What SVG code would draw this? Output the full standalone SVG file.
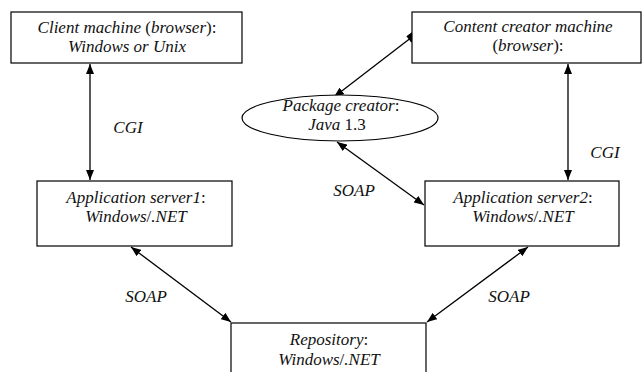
<svg xmlns="http://www.w3.org/2000/svg" width="643" height="372" viewBox="0 0 643 372">
<defs>
<marker id="ah" viewBox="0 0 10 8" refX="10" refY="4" markerWidth="10" markerHeight="8" markerUnits="userSpaceOnUse" orient="auto-start-reverse">
<path d="M0,0 L10,4 L0,8 Z" fill="#000"/>
</marker>
</defs>
<rect width="643" height="372" fill="#fff"/>
<g id="connectors">
<g stroke="#000" stroke-width="1.3" fill="none">
<line x1="90" y1="64" x2="90" y2="180" marker-start="url(#ah)" marker-end="url(#ah)"/>
<line x1="568" y1="64" x2="568" y2="180" marker-start="url(#ah)" marker-end="url(#ah)"/>
<line x1="412" y1="37" x2="334" y2="97" marker-end="url(#ah)"/>
<line x1="337" y1="142" x2="424" y2="205" marker-start="url(#ah)" marker-end="url(#ah)"/>
<line x1="131" y1="247" x2="231" y2="322" marker-start="url(#ah)" marker-end="url(#ah)"/>
<line x1="528" y1="247" x2="427" y2="322" marker-start="url(#ah)" marker-end="url(#ah)"/>
</g>
<rect x="408" y="33" width="8" height="8" fill="#000" transform="rotate(-37 412 37)"/>
<text font-family="Times New Roman" font-size="17" font-style="italic" fill="#111" text-anchor="middle" x="128" y="133">CGI</text>
<text font-family="Times New Roman" font-size="17" font-style="italic" fill="#111" text-anchor="middle" x="605" y="158">CGI</text>
<text font-family="Times New Roman" font-size="17" font-style="italic" fill="#111" text-anchor="middle" x="354" y="196">SOAP</text>
<text font-family="Times New Roman" font-size="17" font-style="italic" fill="#111" text-anchor="middle" x="146" y="302">SOAP</text>
<text font-family="Times New Roman" font-size="17" font-style="italic" fill="#111" text-anchor="middle" x="509" y="302">SOAP</text>
</g>
<g id="client">
<rect x="11" y="12" width="231" height="51" fill="#fff" stroke="#000" stroke-width="1.2"/>
<text font-family="Times New Roman" font-size="17" font-style="italic" fill="#111" text-anchor="middle" x="127" y="33">Client machine <tspan font-style="normal">(</tspan>browser<tspan font-style="normal">):</tspan></text>
<text font-family="Times New Roman" font-size="17" font-style="italic" fill="#111" text-anchor="middle" x="127" y="52">Windows or Unix</text>
</g>
<g id="content">
<rect x="412" y="12" width="229" height="51" fill="#fff" stroke="#000" stroke-width="1.2"/>
<text font-family="Times New Roman" font-size="17" font-style="italic" fill="#111" text-anchor="middle" x="528" y="32">Content creator machine</text>
<text font-family="Times New Roman" font-size="17" font-style="italic" fill="#111" text-anchor="middle" x="528" y="51"><tspan font-style="normal">(</tspan>browser<tspan font-style="normal">):</tspan></text>
</g>
<g id="package">
<ellipse cx="340" cy="118" rx="98" ry="23" fill="#fff" stroke="#000" stroke-width="1.2"/>
<text font-family="Times New Roman" font-size="17" font-style="italic" fill="#111" text-anchor="middle" x="341" y="111">Package creator<tspan font-style="normal">:</tspan></text>
<text font-family="Times New Roman" font-size="17" font-style="italic" fill="#111" text-anchor="middle" x="337" y="130">Java <tspan font-style="normal">1.3</tspan></text>
</g>
<g id="app1">
<rect x="37" y="181" width="195" height="65" fill="#fff" stroke="#000" stroke-width="1.2"/>
<text font-family="Times New Roman" font-size="17" font-style="italic" fill="#111" text-anchor="middle" x="136" y="203">Application server1<tspan font-style="normal">:</tspan></text>
<text font-family="Times New Roman" font-size="17" font-style="italic" fill="#111" text-anchor="middle" x="136" y="222">Windows<tspan font-style="normal">/</tspan>.NET</text>
</g>
<g id="app2">
<rect x="425" y="181" width="194" height="65" fill="#fff" stroke="#000" stroke-width="1.2"/>
<text font-family="Times New Roman" font-size="17" font-style="italic" fill="#111" text-anchor="middle" x="523" y="203">Application server2<tspan font-style="normal">:</tspan></text>
<text font-family="Times New Roman" font-size="17" font-style="italic" fill="#111" text-anchor="middle" x="523" y="222">Windows<tspan font-style="normal">/</tspan>.NET</text>
</g>
<g id="repository">
<rect x="231" y="323" width="195" height="60" fill="#fff" stroke="#000" stroke-width="1.2"/>
<text font-family="Times New Roman" font-size="17" font-style="italic" fill="#111" text-anchor="middle" x="329" y="345">Repository<tspan font-style="normal">:</tspan></text>
<text font-family="Times New Roman" font-size="17" font-style="italic" fill="#111" text-anchor="middle" x="329" y="365">Windows<tspan font-style="normal">/</tspan>.NET</text>
</g>
</svg>
